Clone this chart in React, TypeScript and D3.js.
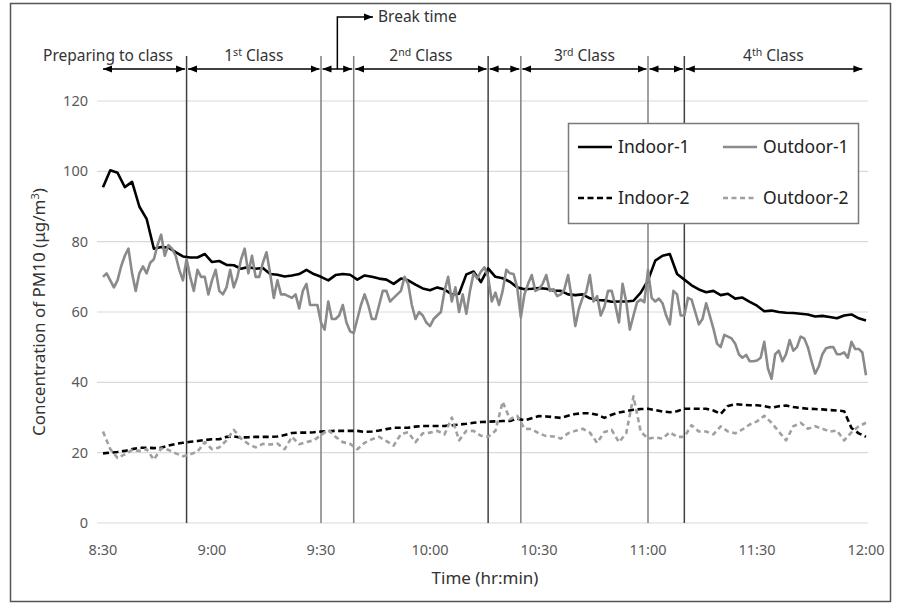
import React from "react";
import * as d3 from "d3";

// Time in minutes from 8:30; values in µg/m³
const xTickMinutes = [0, 30, 60, 90, 120, 150, 180, 210];
const xTickLabels = ["8:30", "9:00", "9:30", "10:00", "10:30", "11:00", "11:30", "12:00"];
const yTicks = [0, 20, 40, 60, 80, 100, 120];

// period boundaries (minutes from 8:30)
const boundaryMinutes = [23, 60, 69, 106, 115, 150, 160];
const boundaryDark = [true, false, false, true, false, false, true];
const periodStarts = [0, 23, 60, 69, 106, 115, 150, 160];
const periodEnds = [23, 60, 69, 106, 115, 150, 160, 209];
const periodLabels = ["Preparing to class", "1|st", "", "2|nd", "", "3|rd", "", "4|th"];

const indoor1Step = 2;
const indoor1 = [
  95.5, 100.3, 99.6, 95.5, 97, 90, 86.5, 78, 78.5, 78.3,
  77, 75.8, 75.5, 75.5, 76.5, 74.2, 74.5, 73.4, 73.3, 72.3,
  72.8, 72.3, 72.5, 70.8, 70.6, 70.1, 70.4, 70.8, 72, 70.8,
  70, 69, 70.5, 70.8, 70.6, 69.2,
  70.4, 70, 69.5, 69.2, 68, 69.5, 69, 67.8, 66.7, 66.2,
  67, 66.4, 65, 65.2, 70.7, 71.5, 68.5, 72.4, 70, 69.6,
  68.6, 67, 66.5, 66.6, 66.8, 66.6, 66.1, 66, 65, 64.8,
  65, 63.9, 63.4, 63.3, 62.9,
  63, 63, 63.2, 65.5, 69, 74.6, 76, 76.5, 70.8, 69.2,
  67.6, 66.4, 65.6, 66, 64.8, 65.2, 63.8, 64.1, 62.9, 61.8,
  60.2, 60.4, 60, 59.8, 59.7, 59.5, 59.3, 58.7, 58.9, 58.6,
  58.2, 59, 59.3, 58.2, 57.6,
];

const outdoor1Step = 1;
const outdoor1 = [
  70, 71, 69, 67, 69, 73, 76, 78, 71, 66, 71,
  73, 71, 74, 75, 79, 82, 76, 79, 78, 76,
  72, 69, 75, 70, 66, 72, 70, 70, 65, 69,
  72, 66, 65, 67, 72, 67, 70, 75, 78, 71,
  76, 70, 70, 74, 77, 71, 64, 69, 65, 65,
  64.5, 64, 65, 61, 66, 68, 62, 62, 62, 57,
  55, 63, 58, 58, 59, 62, 57, 54.5, 54, 58,
  62, 65, 62, 58, 58, 62, 66, 66, 63, 64,
  65, 66, 70, 68, 62, 58, 60, 59, 57, 56,
  58, 59, 60, 66, 70, 63, 67, 60, 65, 59.5,
  66, 71, 69.5, 71.5, 72.7, 70, 63, 65.5, 62, 66,
  72, 71, 70.8, 67, 58.5, 65, 68, 70.5, 66, 66.5,
  68, 70.5, 66, 66.5, 64.5, 65, 66.5, 70.5, 64, 56,
  61, 64, 65.7, 70.5, 63, 64.5, 59, 61.5, 66, 66,
  62, 57, 68, 63, 55, 59, 62.8, 63.5, 62.8, 72,
  64, 63, 63.8, 62.5, 59, 56.5, 66, 65, 59, 59,
  64, 63.5, 60, 56.5, 58, 62.5, 59, 55.3, 51, 50,
  53.5, 53, 52.5, 51, 48, 47, 47.8, 46, 46, 46.2,
  47, 51.5, 44, 41, 48, 49, 46, 48, 52, 49,
  50, 53, 52.5, 50, 46, 42.5, 44.5, 48, 49.7, 50,
  50, 48, 48, 48.5, 47, 51.5, 49.5, 49.5, 48.5, 42,
];

const indoor2Step = 2;
const indoor2 = [
  19.8, 20, 20.2, 20.5, 21, 21.4, 21.4, 21.3, 21.4, 22,
  22.5, 22.8, 23.1, 23.3, 23.6, 23.8, 23.8, 24.5, 24.6, 24.3,
  24.4, 24.5, 24.5, 24.5, 24.6, 25, 25.6, 25.7, 25.7, 25.8,
  26, 26.1, 26.2, 26.2, 26.2, 26.2,
  25.9, 26, 26.3, 26.7, 27.1, 27.1, 27.1, 27.4, 27.6, 27.6,
  27.6, 27.6, 27.8, 28, 28.2, 28.5, 28.7, 28.8, 28.9, 29,
  29, 29.7, 29.2, 29.8, 30.4, 30.3, 30.1, 29.9, 30.5, 31,
  31.2, 31.2, 30.8, 29.9, 30.8,
  31.4, 31.8, 32.2, 32.4, 32.5, 32.1, 31.7, 31.5, 31.8, 32.5,
  32.5, 32.5, 32.5, 32, 31, 33.3, 33.8, 33.6, 33.5, 33.5,
  33.2, 32.8, 33.2, 33.4, 33, 32.7, 32.5, 32.4, 32.3, 32.1,
  32, 31.8, 27, 25.5, 24.5,
];

const outdoor2Step = 2;
const outdoor2 = [
  26, 21, 18.5, 19.5, 20.8, 20.5, 21, 18, 21.2, 20.8,
  19.8, 19, 19.5, 20.3, 23, 21, 21.5, 23.5, 26.5, 24,
  22.5, 21.5, 22.5, 22.3, 22.6, 21, 24.5, 22.4, 23, 23.5,
  25, 26.5, 24.5, 23, 22.5, 21,
  22.8, 23.8, 24.5, 23.3, 22, 25.3, 25.8, 23, 25.5, 25.7,
  26.2, 25.2, 30, 23.5, 26.2, 26.2, 24.8, 24.5, 26.2, 34.5,
  29.5, 30.5, 26.8, 26.7, 25.5, 24.7, 24.6, 24, 25.5, 26.2,
  26.8, 25.7, 22.8, 25.9, 26.5,
  23, 25.5, 36, 26, 24, 24.3, 24, 25.8, 24.5, 24.5,
  27.8, 26, 26, 25.2, 27.5, 26, 25.5, 26.6, 28, 28.9,
  30.5, 28.5, 26, 23.5, 27.5, 28.5, 26.8, 27.5, 26.8, 26,
  26.3, 23.5, 25.8, 27.5, 28.5,
];

const seriesNames = ["Indoor-1", "Outdoor-1", "Indoor-2", "Outdoor-2"];

const FONT = "'Noto Sans', 'Open Sans', sans-serif";

export default function App() {
  const W = 897;
  const H = 607;
  const x = d3.scaleLinear().domain([0, 210]).range([103, 866]);
  const y = d3.scaleLinear().domain([0, 120]).range([523, 101]);

  const mkLine = (step: number) =>
    d3
      .line<number>()
      .x((_, i) => x(i * step))
      .y((d) => y(d));

  const series = [
    { data: indoor1, step: indoor1Step, color: "#000000", dash: null, width: 2.6 },
    { data: outdoor1, step: outdoor1Step, color: "#8a8a8a", dash: null, width: 2.6 },
    { data: indoor2, step: indoor2Step, color: "#000000", dash: "6 3.5", width: 2.6 },
    { data: outdoor2, step: outdoor2Step, color: "#a0a0a0", dash: "5 3.5", width: 2.6 },
  ];

  const arrowY = 69;
  const lineTop = 56;

  const renderLabel = (lab: string, cx: number) => {
    if (!lab) return null;
    if (lab.includes("|")) {
      const [n, sup] = lab.split("|");
      return (
        <text x={cx} y={61} textAnchor="middle" fontSize={15.5} fill="#333" fontFamily={FONT}>
          {n}
          <tspan fontSize={10.5} dy={-5}>{sup}</tspan>
          <tspan dy={5}> Class</tspan>
        </text>
      );
    }
    return (
      <text x={cx} y={61} textAnchor="middle" fontSize={15.5} fill="#333" fontFamily={FONT}>
        {lab}
      </text>
    );
  };

  const legendItems = [
    { name: seriesNames[0], s: series[0], lx: 578, ly: 147 },
    { name: seriesNames[1], s: series[1], lx: 723, ly: 147 },
    { name: seriesNames[2], s: series[2], lx: 578, ly: 198 },
    { name: seriesNames[3], s: series[3], lx: 723, ly: 198 },
  ];

  const breakX = x(64.5);

  return (
    <svg
      width={W}
      height={H}
      style={{ position: "absolute", left: 0, top: 0, background: "#fff" }}
      fontFamily={FONT}
    >
      <defs>
        <marker id="ah" viewBox="0 0 10 10" refX="10" refY="5" markerWidth="9" markerHeight="9" markerUnits="userSpaceOnUse" orient="auto-start-reverse">
          <path d="M0,1 L10,5 L0,9 Z" fill="#000" />
        </marker>
      </defs>
      <rect x={0} y={0} width={W} height={H} fill="#fff" />
      <rect x={10.5} y={3.5} width={880} height={598} fill="none" stroke="#555" strokeWidth={1.5} />

      {/* gridlines */}
      {yTicks.map((t) => (
        <line key={"g" + t} x1={97} x2={868} y1={y(t)} y2={y(t)} stroke="#d9d9d9" strokeWidth={1.2} />
      ))}

      {/* y tick labels */}
      {yTicks.map((t) => (
        <text key={"yt" + t} x={88} y={y(t) + 5} textAnchor="end" fontSize={14.5} fill="#595959">
          {t}
        </text>
      ))}

      {/* x tick labels */}
      {xTickMinutes.map((m, i) => (
        <text key={"xt" + m} x={x(m)} y={555} textAnchor="middle" fontSize={14.5} fill="#595959">
          {xTickLabels[i]}
        </text>
      ))}

      {/* axis titles */}
      <text x={485} y={584} textAnchor="middle" fontSize={17} fill="#333">
        Time (hr:min)
      </text>
      <text transform={`translate(45,312) rotate(-90)`} textAnchor="middle" fontSize={17} fill="#333">
        Concentration of PM10 (μg/m<tspan fontSize={11} dy={-6}>3</tspan>
        <tspan dy={6}>)</tspan>
      </text>

      {/* period boundary lines */}
      {boundaryMinutes.map((m, i) => (
        <line
          key={"b" + m}
          x1={x(m)}
          x2={x(m)}
          y1={lineTop}
          y2={523}
          stroke={boundaryDark[i] ? "#404040" : "#808080"}
          strokeWidth={1.5}
        />
      ))}

      {/* data */}
      {series.map((s, i) => (
        <path
          key={"s" + i}
          d={mkLine(s.step)(s.data) || ""}
          fill="none"
          stroke={s.color}
          strokeWidth={s.width}
          strokeDasharray={s.dash || undefined}
          strokeLinejoin="round"
        />
      ))}

      {/* period arrows */}
      {periodStarts.map((s, i) => {
        const x1 = i === 0 ? x(s) : x(s) + 1.5;
        const x2 = i === periodStarts.length - 1 ? x(periodEnds[i]) : x(periodEnds[i]) - 1.5;
        return (
          <line
            key={"a" + i}
            x1={x1}
            x2={x2}
            y1={arrowY}
            y2={arrowY}
            stroke="#000"
            strokeWidth={1.5}
            markerStart="url(#ah)"
            markerEnd="url(#ah)"
          />
        );
      })}
      {periodLabels.map((lab, i) => {
        const cx = i === 0 ? 108 : (x(periodStarts[i]) + x(periodEnds[i])) / 2;
        return <React.Fragment key={"pl" + i}>{renderLabel(lab, cx)}</React.Fragment>;
      })}

      {/* break time annotation */}
      <path d={`M${breakX},${arrowY} V17 H373`} fill="none" stroke="#000" strokeWidth={1.5} markerEnd="url(#ah)" />
      <text x={378} y={22} fontSize={15.5} fill="#333">
        Break time
      </text>

      {/* legend */}
      <rect x={568.5} y={123.5} width={290} height={100} fill="#fff" stroke="#7a7a7a" strokeWidth={1.5} />
      {legendItems.map((it, i) => (
        <g key={"l" + i}>
          <line
            x1={it.lx}
            x2={it.lx + 34}
            y1={it.ly}
            y2={it.ly}
            stroke={it.s.color}
            strokeWidth={it.s.width}
            strokeDasharray={it.s.dash || undefined}
          />
          <text x={it.lx + 40} y={it.ly + 6} fontSize={17.5} fill="#222">
            {it.name}
          </text>
        </g>
      ))}
    </svg>
  );
}
